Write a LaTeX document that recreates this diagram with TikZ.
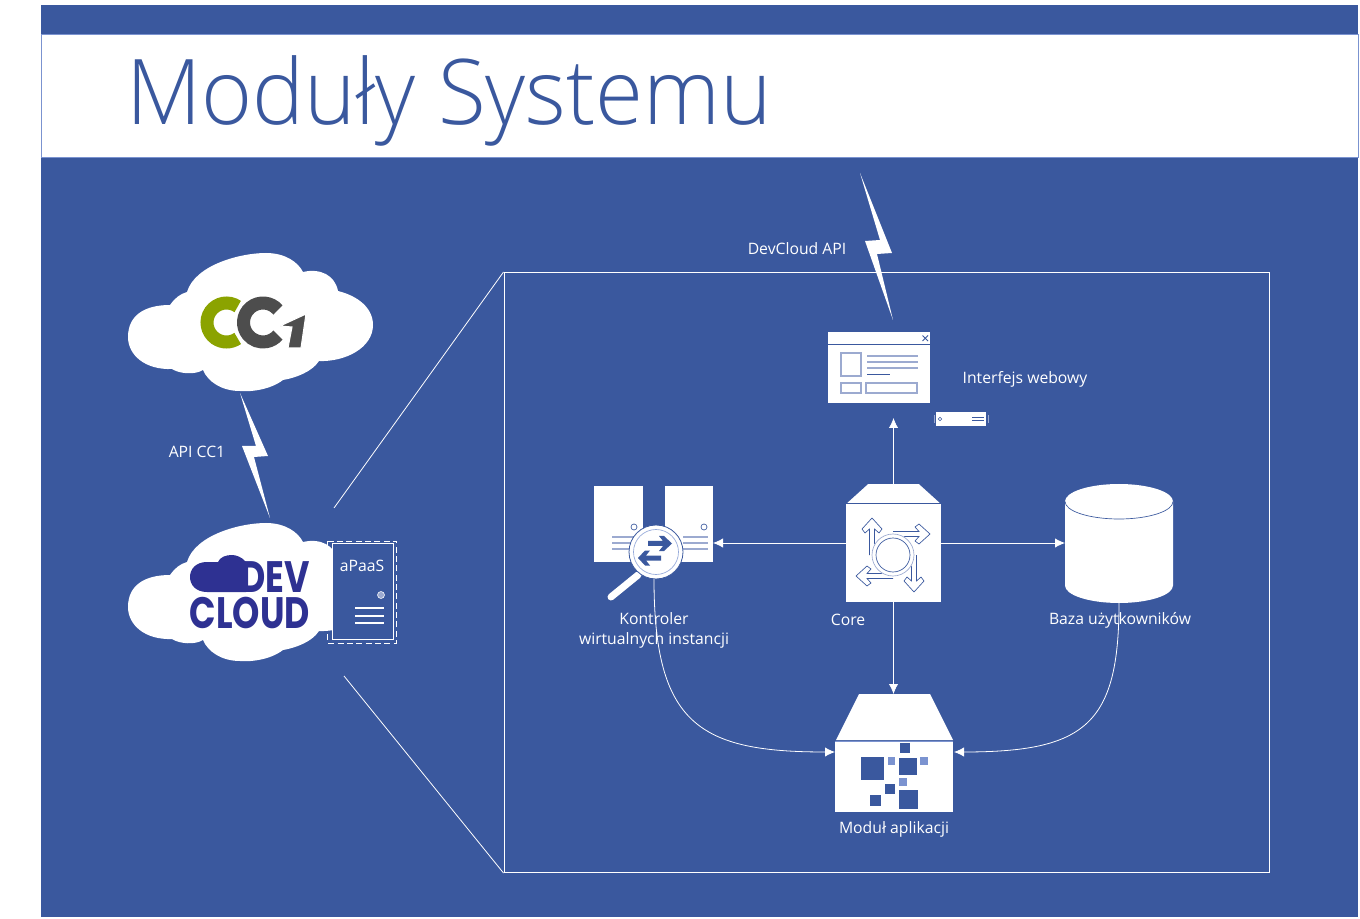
\documentclass[tikz,border=0pt]{standalone}
\usepackage{fontspec}
\setmainfont{Open Sans}
\newfontfamily\titlefont{Open Sans Light}
\newfontfamily\logofont{Poppins Bold}
\usetikzlibrary{calc,arrows.meta,positioning}
\definecolor{tlo}{HTML}{3A589E}
\definecolor{jasny}{HTML}{9CAAD0}
\definecolor{kwadrat}{HTML}{7B93D0}
\definecolor{granat}{HTML}{2E3192}
\definecolor{zielony}{HTML}{8BA300}
\definecolor{szary}{HTML}{4D4D4D}
\def\px{.75pt}
\newcommand{\chmura}{(128,337) .. controls (128,315) and (145,305) .. (170,305)
  .. controls (175,298) and (180,294) .. (187,292)
  .. controls (195,265) and (240,253) .. (266,253)
  .. controls (285,253) and (298,262) .. (303,272)
  .. controls (320,268) and (335,275) .. (338,291)
  .. controls (358,296) and (373,308) .. (373,325)
  .. controls (373,348) and (345,362) .. (319,361)
  .. controls (312,372) and (295,378) .. (283,380)
  .. controls (270,390) and (250,392) .. (240,391)
  .. controls (222,391) and (208,382) .. (203,370)
  .. controls (195,375) and (180,374) .. (172,369)
  .. controls (145,370) and (128,355) .. (128,337) -- cycle}
\tikzset{
  label/.style={text=white,font=\fontsize{11.8}{15}\selectfont,inner sep=0,align=center},
  box/.style={fill=white,inner sep=0,outer sep=0},
  link/.style={draw=white,line width=.6pt,-{Latex[length=7.5pt,width=7pt]}},
  wire/.style={draw=white,line width=.6pt},
  bolt/.style={fill=white,draw=none},
  ikona/.style={draw=tlo,line width=.5pt},
  ikonaj/.style={draw=jasny,line width=1.2pt},
}
\begin{document}
\begin{tikzpicture}[x=.75pt,y=-.75pt]
    \useasboundingbox (0,0) rectangle (1360,919);
    \fill[tlo] (41,5) rectangle (1358,917);
    \draw[fill=white,draw=kwadrat,line width=.75pt] (41,35) rectangle (1358,157.5);
    \node[anchor=base west,inner sep=0,text=tlo,xscale=.962,font=\titlefont\fontsize{68}{80}\selectfont] (tytul) at (126,125) {Moduły Systemu};

    % chmury
    \fill[white] \chmura;
    \fill[white,yshift=-202.5pt] \chmura;
    \draw[zielony,line width=9.75pt] (226.5,322.5) ++(55:19.5*\px) arc (55:305:19.5*\px);
    \draw[white,line width=12pt] (263,322.5) ++(40:19.5*\px) arc (40:320:19.5*\px);
    \draw[szary,line width=9.75pt] (263,322.5) ++(40:19.5*\px) arc (40:320:19.5*\px);
    \filldraw[fill=szary,draw=white,line width=.8pt] (280,326) -- (306,314) -- (301,348) -- (288,348) -- (292,327) -- cycle;

    \fill[granat] (207,562) .. controls (196,562) and (190,569) .. (190,577) .. controls (190,585) and (196,592) .. (207,592)
      -- (246,592) -- (246,562) .. controls (242,557) and (236,555) .. (232,555) .. controls (226,555) and (220,557) .. (218,562) -- cycle;
    \node[anchor=base east,inner sep=0,text=granat,align=right,xscale=.79,font=\logofont\fontsize{33}{27}\selectfont] (logo) at (310,628) {DEV\\CLOUD};

    % aPaaS
    \draw[white,line width=.6pt,dash pattern=on 4.5pt off 2.5pt] (327.5,541) rectangle (396.5,643);
    \node[box,fill=tlo,draw=white,line width=.75pt,minimum width=61*\px,minimum height=95*\px] (apaas) at (362.5,591.5) {};
    \node[label] (apaastxt) at (362,566) {aPaaS};
    \node[circle,fill=jasny,draw=white,line width=.4pt,minimum size=7*\px,inner sep=0] (dioda) at (381,595) {};
    \foreach \y in {608,616,623} \draw[white,line width=1.1pt] (355,\y) -- (384,\y);

    % blyskawice
    \fill[bolt] (240,393) -- (268,456) -- (254,457) -- (270,518) -- (242,446) -- (256,446) -- cycle;
    \node[label] (apicc) at (197,452) {API CC1};
    \node[label] (apidev) at (797,249) {DevCloud API};

    % panel
    \node[draw=white,line width=.75pt,inner sep=0,minimum width=765*\px,minimum height=600*\px] (panel) at (886.5,572.5) {};
    \coordinate (zoomg) at (334,508);
    \coordinate (zoomd) at (344,676);
    \draw[wire] (zoomg) -- (panel.north west);
    \draw[wire] (zoomd) -- (panel.south west);
    \fill[bolt] (860,173) -- (892,253) -- (877,254) -- (893,320) -- (865,241) -- (880,240) -- cycle;

    % interfejs
    \node[box,minimum width=102*\px,minimum height=71*\px] (web) at (879,367.5) {};
    \draw[ikona] (828,344) -- (930,344);
    \draw[tlo,line width=.7pt] (922.5,335.5) -- (928,341) (928,335.5) -- (922.5,341);
    \draw[ikonaj] (841,353) rectangle (861,376);
    \draw[ikonaj] (841,383) rectangle (861,393);
    \draw[ikonaj] (866,383) rectangle (917,393);
    \foreach \y in {356,362,368} \draw[jasny,line width=1pt] (867,\y) -- (918,\y);
    \draw[tlo,line width=.6pt] (867,374) -- (890,374);
    \node[label] (webtxt) at (1025,379) {Interfejs webowy};
    \node[box,minimum width=50*\px,minimum height=14*\px] (serwer) at (961,419) {};
    \draw[jasny,line width=.7pt] (934,415) -- (934,423) (988,415) -- (988,423);
    \draw[tlo,line width=.4pt] (940,419) circle (1.7);
    \draw[tlo,line width=.4pt] (972,417) -- (984,417) (972,420) -- (984,420);

    % core
    \node[box,minimum width=95*\px,minimum height=118*\px] (core) at (893.5,543) {};
    \fill[tlo] (840,484) -- (868,484) -- (847,503) -- (840,503) -- cycle;
    \fill[tlo] (947,484) -- (919,484) -- (940,503) -- (947,503) -- cycle;
    \draw[tlo,line width=.6pt] (846,503.5) -- (941,503.5);
    \foreach \a in {0,90,180,270}
      \draw[ikona,fill=white,line width=.5pt,shift={(893,555)},rotate=\a]
        (0,-23.5) -- (26,-23.5) -- (22,-28) -- (26,-31) -- (37,-21) -- (26,-11) -- (22,-14) -- (26,-18.5) -- (8,-18.5);
    \draw[white,line width=3pt] (893,555) circle (19.5);
    \draw[ikona] (893,555) circle (17);
    \draw[ikona,draw=jasny] (893,555) circle (21);
    \node[label,anchor=center] (coretxt) at (848,620) {Core};

    % kontroler
    \node[box,fill=none,minimum width=119*\px,minimum height=76*\px] (kontroler) at (653.5,524) {};
    \fill[white] (594,486) rectangle (643,562);
    \fill[white] (665,486) rectangle (713,562);
    \draw[ikona] (634,527) circle (3) (704,527) circle (3);
    \foreach \y in {537,543,549} {
      \draw[jasny,line width=2.2pt] (612,\y) -- (640,\y);
      \draw[jasny,line width=2.2pt] (683,\y) -- (708,\y);
    }
    \draw[white,line width=5.25pt,line cap=round] (638,575) -- (611,597);
    \node[circle,fill=white,draw=tlo,line width=.6pt,minimum size=54*\px,inner sep=0] (lupa) at (656,552) {};
    \draw[kwadrat!80,line width=.5pt] (656,552) circle (22.5);
    \fill[tlo] (648,541) -- (663,541) -- (659,536) -- (664,536) -- (672,543.5) -- (664,551) -- (659,551) -- (663,546) -- (648,546) -- cycle;
    \fill[tlo] (661,555.5) -- (646,555.5) -- (650,550.5) -- (645,550.5) -- (638,558) -- (645,565.5) -- (650,565.5) -- (646,560.5) -- (661,560.5) -- cycle;
    \coordinate (kontrolerdol) at (654,579);
    \node[label] (kontrolertxt) at (654,630) {Kontroler\\wirtualnych instancji};

    % baza
    \node[box,fill=none,minimum width=108*\px,minimum height=119*\px] (baza) at (1119,543.5) {};
    \fill[white] (baza.north west) ++(0,17.5) arc (180:360:54 and 17.5) -- (1173,585.5) arc (0:180:54 and 17.5) -- cycle;
    \draw[tlo,line width=.5pt] (1065,501.5) arc (180:0:54 and 17.5);
    \node[label] (bazatxt) at (1120,620) {Baza użytkowników};

    % modul
    \node[box,fill=none,minimum width=118*\px,minimum height=118*\px] (modul) at (894,753) {};
    \fill[white] (859,694) -- (930,694) -- (953,740) -- (836,740) -- cycle;
    \fill[white] (835,742) rectangle (953,812);
    \draw[kwadrat,line width=.6pt] (835,741) -- (953,741);
    \foreach \a/\b/\c/\d in {861/757/884/780,899/758/917/775,900/743/910/753,885/784/895/794,870/795/881/806,899/790/918/809}
      \fill[tlo] (\a,\b) rectangle (\c,\d);
    \foreach \a/\b/\c/\d in {888/757/895/765,920/757/928/765,899/778/907/786}
      \fill[kwadrat] (\a,\b) rectangle (\c,\d);
    \node[label] (modultxt) at (894,829) {Moduł aplikacji};

    % polaczenia
    \draw[link,shorten >=11.25pt] (core.north) -- (core.north |- web.south);
    \draw[link] (core.west) -- (core.west -| kontroler.east);
    \draw[link] (core.east) -- (core.east -| baza.west);
    \draw[link] (core.south) -- (core.south |- modul.north);
    \draw[link] (kontrolerdol) .. controls (654,725) and (700,752) .. ($(modul.west)+(0,-1)$);
    \draw[link] (baza.south) .. controls (1119,725) and (1085,752) .. ($(modul.east)+(1,-1)$);
\end{tikzpicture}
\end{document}
